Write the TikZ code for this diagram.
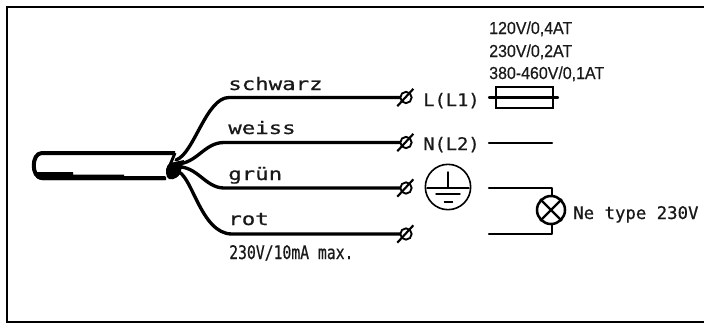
\documentclass[tikz,border=0pt]{standalone}
\usepackage{fontspec}
\newfontfamily\ratef{Liberation Sans}[FakeBold=0.5]
\newfontfamily\monof{DejaVu Sans Mono}[FakeBold=0.6]
\tikzset{
 ln/.style={line width=1.7pt,line cap=round,line join=round},
 thin ln/.style={line width=1.1pt,line cap=round},
 wire/.style={line width=2.5pt,line cap=round,line join=round},
 txt/.style={inner sep=0pt,anchor=base west,text=black!90},
 lab/.style={txt,font=\monof\fontsize{13}{13}\selectfont},
 lab2/.style={txt,font=\ratef\fontsize{13}{13}\selectfont,xscale=.92},
 term/.style={circle,draw,line width=1.4pt,minimum size=8.5pt,inner sep=0pt},
}
\begin{document}
\begin{tikzpicture}[x=0.75pt,y=-0.75pt]
\useasboundingbox (0,0) rectangle (704,325);
\fill[white] (0,0) rectangle (704,325);
\draw[line width=1.7pt] (705,7) -- (7,7) -- (7,322) -- (705,322);
% cable
\draw[line width=3pt,line join=round] (175,153) -- (42,153) .. controls (31,153) and (31,178) .. (42,178) -- (165,178);
\fill (35,172) -- (73,172) -- (73,174.5) -- (124,174.5) -- (124,176.5) -- (166,176.5) -- (166,180) -- (42,180) .. controls (38,180) and (35,177) .. (35,172) -- cycle;
\fill (170,163) .. controls (166,165) and (165,172) .. (167,177) .. controls (169,181) and (176,180) .. (180,174) -- (184,160) -- cycle;
\draw[line width=2.2pt] (175,153) -- (170,165);
% wire end points
\coordinate (s1) at (176,160);
\coordinate (s2) at (176,164);
\coordinate (s3) at (176,167);
\coordinate (s4) at (176,171);
\coordinate (t1) at (406,97.5);
\coordinate (t2) at (406,142.5);
\coordinate (t3) at (406,188);
\coordinate (t4) at (406,234);
\draw[wire] (s1) .. controls (194,154) and (206,97.5) .. (229,97.5) -- (t1);
\draw[wire] (s2) .. controls (197,164) and (204,142.5) .. (224,142.5) -- (t2);
\draw[wire] (s3) .. controls (197,165) and (205,188) .. (224,188) -- (t3);
\draw[wire] (s4) .. controls (192,172) and (200,234) .. (232,234) -- (t4);
% terminals
\foreach \n in {1,2,3,4}{
 \node[term,fill=white] (c\n) at (t\n) {};
 \draw[line width=1.6pt] ([xshift=-6.5pt,yshift=-6.5pt]t\n) -- ([xshift=5.5pt,yshift=6.5pt]t\n);
}
% wire labels
\node[lab,xscale=1.29] (l1) at (228,90) {schwarz};
\node[lab,xscale=1.29] (l2) at (228,134) {weiss};
\node[lab,xscale=1.29] (l3) at (228,180) {grün};
\node[lab,xscale=1.29] (l4) at (228,225) {rot};
\node[txt,font=\monof\fontsize{14}{14}\selectfont,xscale=.79] (l5) at (229,259) {230V/10mA max.};
\node[lab,xscale=1.08] (tl1) at (423,106) {L(L1)};
\node[lab,xscale=1.08] (tl2) at (423,150) {N(L2)};
% fuse ratings
\node[lab2] (f1) at (489,34) {120V/0,4AT};
\node[lab2] (f2) at (489,57) {230V/0,2AT};
\node[lab2] (f3) at (489,79) {380-460V/0,1AT};
% fuse
\node[draw,line width=1.7pt,minimum width=43pt,minimum height=16pt,inner sep=0pt] (fuse) at (524.5,97.5) {};
\coordinate (fa) at (489,97.5);
\coordinate (fb) at (558,97.5);
\draw[ln] (fa) -- (fb);
\coordinate (na) at (489,143);
\coordinate (nb) at (552,143);
\draw[ln] (na) -- (nb);
% earth
\node[circle,draw,line width=1.2pt,minimum size=34pt,inner sep=0pt] (pe) at (448,187) {};
\draw[thin ln] (448,172) -- (448,188);
\draw[thin ln] (427,188) -- (469,188);
\draw[thin ln] (436,194) -- (460,194);
\draw[line width=1.5pt] (443.5,202) -- (452.5,202);
% lamp
\node[circle,draw,line width=1.9pt,minimum size=21pt,inner sep=0pt] (lamp) at (551,210) {};
\draw[line width=1.7pt] (lamp.45) -- (lamp.225) (lamp.135) -- (lamp.315);
\coordinate (a1) at (489,188);
\coordinate (a2) at (552,188);
\coordinate (b1) at (489,234);
\coordinate (b2) at (552,234);
\draw[ln] (a1) -- (a2) -- (a2 |- lamp.north);
\draw[ln] (b1) -- (b2) -- (b2 |- lamp.south);
\node[lab,xscale=1.0] (nt) at (573,219) {Ne type 230V};
\end{tikzpicture}
\end{document}
